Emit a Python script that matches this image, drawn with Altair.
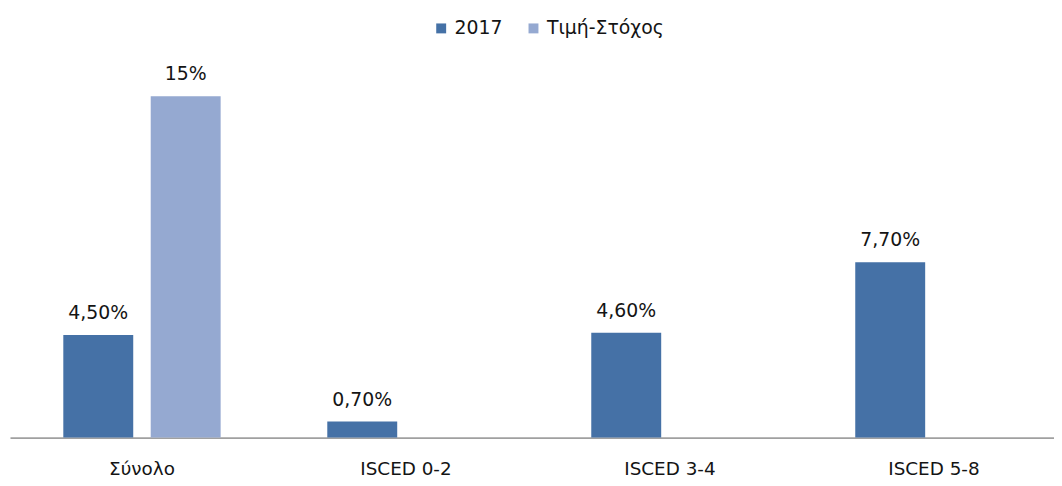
import altair as alt
import pandas as pd

categories = ["Σύνολο", "Σύνολο", "ISCED 0-2", "ISCED 3-4", "ISCED 5-8"]
series = ["2017", "Τιμή-Στόχος", "2017", "2017", "2017"]
values = [4.5, 15, 0.7, 4.6, 7.7]
labels = ["4,50%", "15%", "0,70%", "4,60%", "7,70%"]

cat_order = ["Σύνολο", "ISCED 0-2", "ISCED 3-4", "ISCED 5-8"]
series_order = ["2017", "Τιμή-Στόχος"]
colors = ["#4571a6", "#95a9d1"]

df = pd.DataFrame({"cat": categories, "series": series, "value": values, "label": labels})

FONT = "DejaVu Sans"
TXT = "#141414"

x_enc = alt.X("cat:N", sort=cat_order,
              scale=alt.Scale(domain=cat_order, paddingInner=0, paddingOuter=0),
              axis=alt.Axis(title=None, labelAngle=0, ticks=False, tickSize=0, labelPadding=37,
                            labelBaseline="alphabetic",
                            labelFontSize=18.5, labelColor=TXT, labelFont=FONT,
                            domainColor="#a0a0a0", domainWidth=1.8, grid=False))
xo_enc = alt.XOffset("series:N", sort=series_order,
                     scale=alt.Scale(domain=series_order, paddingInner=0.2, paddingOuter=0.61))
y_enc = alt.Y("value:Q", scale=alt.Scale(domain=[0, 15], nice=False), axis=None)

bars = alt.Chart(df).mark_bar().encode(
    x=x_enc, xOffset=xo_enc, y=y_enc,
    color=alt.Color("series:N", sort=series_order,
                    scale=alt.Scale(domain=series_order, range=colors),
                    legend=alt.Legend(title=None, orient="none", direction="horizontal",
                                      legendX=425, legendY=-78, symbolType="square",
                                      symbolSize=100, symbolStrokeWidth=0,
                                      labelFontSize=19, labelFont=FONT, labelColor=TXT,
                                      columnPadding=21, labelOffset=4))
)

text = alt.Chart(df).mark_text(baseline="alphabetic", dy=-16, fontSize=19, font=FONT,
                                color=TXT).encode(
    x=x_enc, xOffset=xo_enc, y=y_enc, text="label:N"
)

chart = (bars + text).properties(
    width=1064, height=344,
    padding={"left": 2, "top": 87, "right": -12, "bottom": 44},
    autosize=alt.AutoSizeParams(type="none"),
    background="white",
).configure_view(strokeWidth=0, stroke="transparent")

chart.save("out.html", embed_options={"renderer": "svg", "actions": False})
